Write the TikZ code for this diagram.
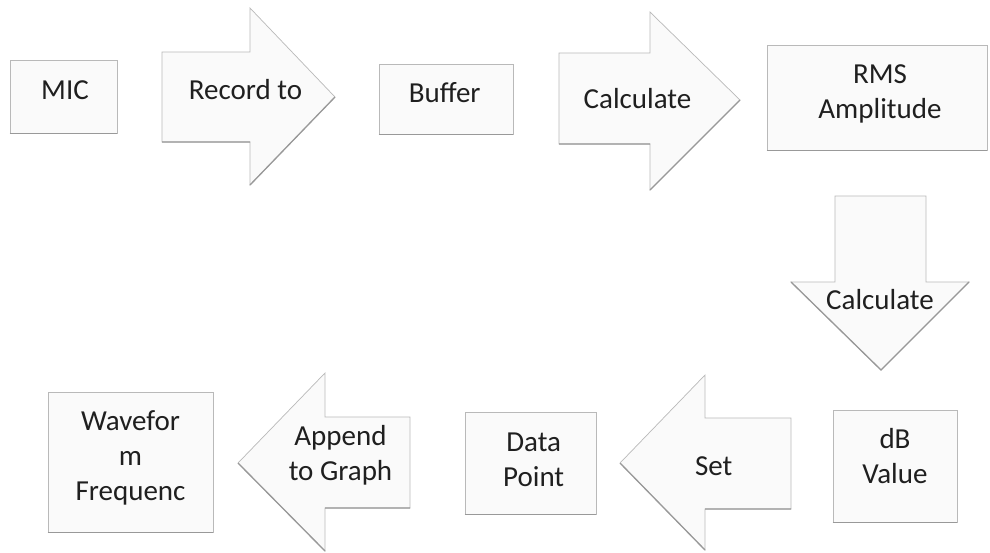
\documentclass[tikz,border=0pt]{standalone}
\usepackage{fontspec}
\setmainfont{Carlito}
\begin{document}
\begin{tikzpicture}[x=1pt,y=-1pt,
  shp/.style={draw=gray!55, fill=gray!4, line width=0.7pt},
  box/.style={shp, rectangle, inner sep=0pt},
  shadowline/.style={draw=gray!80, line width=1.3pt},
  lbl/.style={anchor=base, inner sep=0pt, text=black!88, font=\fontsize{29}{35}\selectfont}]
\useasboundingbox (0,0) rectangle (990,552);
% boxes
\node[box, minimum width=107pt, minimum height=73pt]  (mic)  at (63.5,96.5) {};
\node[box, minimum width=134pt, minimum height=70pt]  (buf)  at (446,99) {};
\node[box, minimum width=220pt, minimum height=105pt] (rms)  at (877,97.5) {};
\node[box, minimum width=124pt, minimum height=112pt] (db)   at (895,466) {};
\node[box, minimum width=131pt, minimum height=102pt] (dp)   at (530.5,463) {};
\node[box, minimum width=165pt, minimum height=140pt] (wf)   at (130.5,462) {};
\foreach \b in {mic,buf,rms,db,dp,wf}
  \draw[shadowline] (\b.south west) -- (\b.south east);
% arrows
\draw[shp] (162,52) -- (250,52) -- (250,8) -- (335,97) -- (250,185) -- (250,142) -- (162,142) -- cycle;
\draw[shadowline] (162,142) -- (250,142) (250,185) -- (335,97);
\draw[shp] (559,53) -- (650,53) -- (650,12) -- (740,100) -- (650,190) -- (650,144) -- (559,144) -- cycle;
\draw[shadowline] (559,144) -- (650,144) (650,190) -- (740,100);
\draw[shp] (835,196) -- (926,196) -- (926,282) -- (969,282) -- (881,370) -- (791,282) -- (835,282) -- cycle;
\draw[shadowline] (791,282) -- (881,370) -- (969,282);
\draw[shp] (791,418) -- (705,418) -- (705,375) -- (620,463) -- (705,550) -- (705,509) -- (791,509) -- cycle;
\draw[shadowline] (620,463) -- (705,550) (705,509) -- (791,509);
\draw[shp] (410,417) -- (325,417) -- (325,373) -- (238,463) -- (325,551) -- (325,508) -- (410,508) -- cycle;
\draw[shadowline] (238,463) -- (325,551) (325,508) -- (410,508);
% labels
\node[lbl] (tmic) at (65,99) {MIC};
\node[lbl] (trec) at (245.5,99) {Record to};
\node[lbl] (tbuf) at (444.7,102) {Buffer};
\node[lbl] (tcal1) at (637.5,108) {Calculate};
\node[lbl] (trms) at (880,83) {\begin{tabular}[t]{@{}c@{}}RMS\\Amplitude\end{tabular}};
\node[lbl] (tcal2) at (880,309) {Calculate};
\node[lbl] (tdb) at (895,448) {\begin{tabular}[t]{@{}c@{}}dB\\Value\end{tabular}};
\node[lbl] (tset) at (713.7,475) {Set};
\node[lbl] (tdp) at (533.7,451) {\begin{tabular}[t]{@{}c@{}}Data\\Point\end{tabular}};
\node[lbl] (tapp) at (340.5,445) {\begin{tabular}[t]{@{}c@{}}Append\\to Graph\end{tabular}};
\node[lbl] (twf) at (130.5,430) {\begin{tabular}[t]{@{}c@{}}Wavefor\\m\\Frequenc\end{tabular}};
\end{tikzpicture}
\end{document}
